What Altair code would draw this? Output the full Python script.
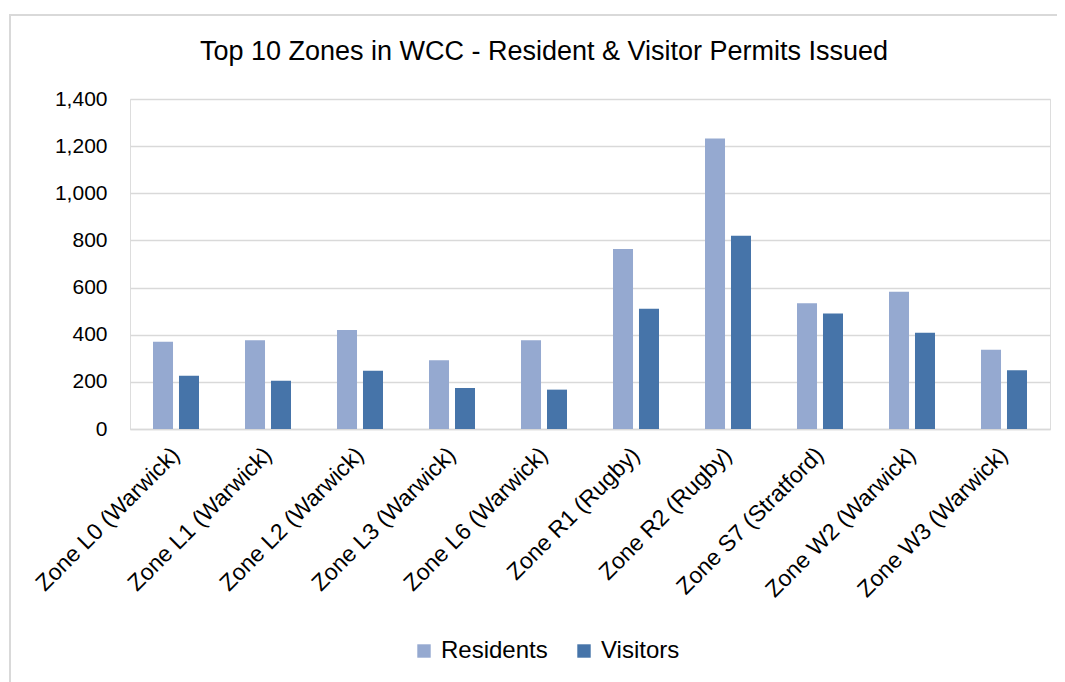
import altair as alt
import pandas as pd

title_text = "Top 10 Zones in WCC - Resident & Visitor Permits Issued"
zones = ["Zone L0 (Warwick)", "Zone L1 (Warwick)", "Zone L2 (Warwick)", "Zone L3 (Warwick)",
         "Zone L6 (Warwick)", "Zone R1 (Rugby)", "Zone R2 (Rugby)", "Zone S7 (Stratford)",
         "Zone W2 (Warwick)", "Zone W3 (Warwick)"]
residents = [370, 376, 420, 292, 376, 764, 1232, 533, 582, 336]
visitors = [226, 205, 247, 174, 167, 510, 820, 490, 408, 249]
series = ["Residents", "Visitors"]
colors = ["#95A9D0", "#4674A9"]

rows = []
for z, r, v in zip(zones, residents, visitors):
    rows.append({"zone": z, "series": series[0], "value": r})
    rows.append({"zone": z, "series": series[1], "value": v})
df = pd.DataFrame(rows)

FONT = "Liberation Sans"

bars = alt.Chart(df).mark_bar().encode(
    x=alt.X("zone:N", sort=zones, title=None,
            scale=alt.Scale(paddingInner=0.5, paddingOuter=0.25),
            axis=alt.Axis(labelAngle=-45, labelAlign="right", labelBaseline="middle",
                          labelFontSize=23, labelFont=FONT, labelColor="#000000",
                          labelPadding=22, ticks=False, domainColor="#d9d9d9",
                          domainWidth=1.5, grid=False, labelLimit=400)),
    xOffset=alt.XOffset("series:N", sort=series,
                        scale=alt.Scale(paddingInner=0.23, paddingOuter=0)),
    y=alt.Y("value:Q", title=None,
            scale=alt.Scale(domain=[0, 1400]),
            axis=alt.Axis(values=[0, 200, 400, 600, 800, 1000, 1200, 1400], format=",.0f",
                          labelFontSize=21, labelFont=FONT, labelColor="#000000",
                          labelPadding=23, ticks=False, domain=False,
                          gridColor="#d9d9d9", gridWidth=1.5)),
    color=alt.Color("series:N", sort=series,
                    scale=alt.Scale(domain=series, range=colors),
                    legend=alt.Legend(title=None, orient="none", legendX=282, legendY=540,
                                      direction="horizontal", symbolType="square",
                                      symbolSize=180, symbolStrokeWidth=0,
                                      labelFontSize=24, labelFont=FONT, labelColor="#000000",
                                      labelOffset=5, columnPadding=24)),
)

border = alt.Chart(pd.DataFrame({"a": [0]})).mark_rect(
    filled=False, stroke="#d9d9d9", strokeWidth=2
).encode(
    x=alt.value(-120), x2=alt.value(960), y=alt.value(-84), y2=alt.value(700)
)

title = alt.Chart(pd.DataFrame({"t": [title_text]})).mark_text(
    font=FONT, fontSize=27, color="#000000", align="center", baseline="alphabetic"
).encode(
    text="t:N", x=alt.value(414), y=alt.value(-39)
)

chart = alt.layer(border, bars, title).properties(
    width=920, height=330,
    padding={"left": 122, "top": 91, "right": 7, "bottom": 253},
    autosize=alt.AutoSizeParams(type="none"),
).configure_view(stroke=None).configure(background="white")

chart.save("out.html", embed_options={"renderer": "svg", "actions": False})
